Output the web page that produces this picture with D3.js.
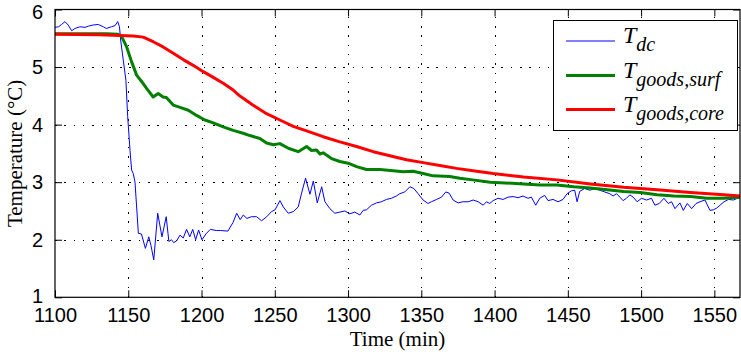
<!DOCTYPE html>
<html><head><meta charset="utf-8">
<script src="https://cdn.jsdelivr.net/npm/d3@7"></script>
<style>body{margin:0;background:#fff}svg{display:block}</style>
</head><body><svg id="c" width="741" height="354"></svg>
<script>
const xTicks = [1100,1150,1200,1250,1300,1350,1400,1450,1500,1550];
const yTicks = [1,2,3,4,5,6];

const dcTime = [1100,1102.4,1104.5,1106.8,1109,1111.4,1113.6,1117,1120.5,1122.7,1126,1129.5,1133,1135,1138.5,1141,1142.8,1144,1144.8,1146.6,1148.4,1149.6,1151.2,1152.3,1153.4,1154.6,1156.9,1159,1161.7,1164,1165.5,1167.4,1170.1,1173,1175.9,1177.7,1179.5,1181,1183,1185.3,1187.5,1189.8,1192,1194,1196,1198,1200.3,1203,1206,1210,1213,1218,1221.5,1224,1226.4,1228.5,1231,1234,1237.5,1241,1244.5,1247.8,1250.2,1253.5,1255.8,1259.2,1262.7,1266,1268.3,1271,1274,1276.3,1279,1282,1284.2,1287.6,1291,
  1294.4,1297.8,1301.2,1304.6,1308.1,1310.3,1312.6,1316,1319.4,1322.8,1326.2,1329.6,1333,1335.3,1338.7,1342.2,1344.9,1347.8,1351.2,1354.6,1356.9,1360.4,1363.8,1366.7,1369,1371.7,1375.1,1378.5,1382,1385.4,1388.8,1392.2,1394.5,1396.7,1399,1402.4,1405.8,1409.2,1412.6,1416,1419.4,1422.8,1425.1,1428.1,1430.8,1434.2,1436.5,1439.9,1443.3,1446.7,1449.5,1452.4,1454.7,1456.3,1458.1,1461.5,1465,1468.4,1471.8,1475.2,1478.6,1480.9,1483.2,1485.5,1487.7,1490,1492.3,1494.6,1497.3,1500.3,1503.7,1507.1,1509.4,1512.4,1515.6,1518.5,1520.8,1523.1,1526.5,1528.8,1531.5,1534.5,1537.5,1540.2,1543.6,1547,1549.3,1551.6,1553.9,1556.6,1559.6,1563,1567.5];
const dcTemp = [5.69,5.70,5.74,5.79,5.73,5.63,5.67,5.70,5.69,5.71,5.73,5.74,5.70,5.67,5.70,5.72,5.79,5.70,5.47,5.12,4.77,4.14,3.55,3.21,3.15,3.00,2.11,2.10,1.85,2.05,1.90,1.65,2.46,2.05,2.40,1.97,2.00,1.95,1.98,2.08,2.03,2.18,2.05,2.18,2.00,2.17,2.00,2.10,2.18,2.16,2.16,2.15,2.30,2.46,2.35,2.43,2.37,2.40,2.40,2.33,2.40,2.49,2.52,2.68,2.57,2.46,2.49,2.57,2.81,3.07,2.79,3.02,2.64,2.92,2.66,2.54,2.46,
  2.48,2.50,2.45,2.48,2.43,2.51,2.52,2.60,2.64,2.66,2.70,2.72,2.76,2.80,2.83,2.92,2.89,2.80,2.69,2.63,2.66,2.70,2.74,2.83,2.81,2.69,2.64,2.66,2.66,2.69,2.66,2.60,2.66,2.63,2.68,2.72,2.70,2.74,2.75,2.73,2.76,2.72,2.74,2.60,2.72,2.77,2.68,2.70,2.66,2.70,2.80,2.85,2.86,2.66,2.84,2.89,2.86,2.89,2.86,2.83,2.80,2.76,2.80,2.74,2.68,2.72,2.78,2.74,2.66,2.72,2.69,2.72,2.60,2.63,2.72,2.63,2.66,2.54,2.64,2.51,2.63,2.54,2.63,2.66,2.69,2.51,2.52,2.55,2.60,2.66,2.70,2.69,2.74];

const surfTime = [1100,1120,1135,1143,1145.5,1148.9,1152.3,1155.7,1159.1,1162.5,1167,1170.4,1173.8,1176,1180.7,1185.3,1191,1196.6,1202.3,1208,1214.8,1221.6,1228.4,1233,1239.8,1244.4,1249,1253.5,1259.2,1266,1271.7,1275.1,1278.5,1280.8,1283,1288.7,1294.4,1300,1305.8,1312.6,1321.7,1330.8,1337.6,1344.4,1351.2,1358,1369.4,1376.3,1385,1397,1419.8,1431.2,1442.6,1454,1465.4,1476.8,1488.1,1499.5,1510.9,1522.3,1533.7,1545,1556.3,1567.5];
const surfTemp = [5.58,5.58,5.58,5.57,5.53,5.35,5.09,4.86,4.75,4.63,4.48,4.54,4.48,4.47,4.34,4.30,4.25,4.16,4.08,4.03,3.96,3.90,3.85,3.81,3.76,3.68,3.65,3.67,3.59,3.53,3.62,3.55,3.56,3.49,3.51,3.41,3.36,3.33,3.27,3.22,3.22,3.20,3.18,3.19,3.15,3.11,3.10,3.07,3.04,3.00,2.97,2.95,2.95,2.92,2.90,2.87,2.84,2.82,2.78,2.76,2.75,2.72,2.72,2.74];

const coreTime = [1100,1130,1153.4,1160.2,1167,1173.8,1180.7,1187.5,1194.3,1201.2,1208,1214.8,1221.6,1226,1235,1244.4,1253.5,1262.6,1271.7,1283,1294.4,1305.8,1317.2,1328.5,1339.9,1351.2,1362.6,1374,1385.3,1399,1419.8,1442.6,1465.4,1488.1,1510.9,1533.7,1556.3,1567.5];
const coreTemp = [5.57,5.56,5.54,5.52,5.44,5.35,5.24,5.13,5.03,4.92,4.82,4.72,4.60,4.50,4.34,4.19,4.08,3.97,3.89,3.79,3.70,3.62,3.53,3.46,3.39,3.34,3.29,3.24,3.20,3.15,3.09,3.04,2.97,2.91,2.87,2.82,2.78,2.76];

const seriesNames = ["dc","goods,surf","goods,core"];
const seriesColors = ["#0000ff","#008000","#ff0000"];

const L=55, R=740, T=9.5, B=297.3;
const svg = d3.select("#c");
const x = d3.scaleLinear().domain([1100,1567.5]).range([L,R]);
const y = d3.scaleLinear().domain([1,6]).range([B,T]);

// grid (dotted)
const grid = svg.append("g").attr("shape-rendering","crispEdges");
xTicks.filter(d=>d>1100).forEach(d=>{
  const px = Math.round(x(d))+0.5;
  grid.append("line").attr("x1",px).attr("x2",px).attr("y1",B).attr("y2",T)
    .attr("stroke","#000").attr("stroke-width",1).attr("stroke-dasharray","1.5,7.8");
});
yTicks.filter(d=>d>1&&d<6).forEach(d=>{
  const py = Math.round(y(d))+0.5;
  grid.append("line").attr("x1",L).attr("x2",R).attr("y1",py).attr("y2",py)
    .attr("stroke","#000").attr("stroke-width",1).attr("stroke-dasharray","1.5,7.8");
});

svg.append("clipPath").attr("id","clip").append("rect").attr("x",L).attr("y",T).attr("width",R-L).attr("height",B-T);
const line = d3.line().x(d=>x(d[0])).y(d=>y(d[1]));
const plot = svg.append("g").attr("clip-path","url(#clip)");
const sets = [[dcTime,dcTemp,1],[surfTime,surfTemp,3],[coreTime,coreTemp,3]];
sets.forEach((s,i)=>{
  plot.append("path").datum(d3.zip(s[0],s[1])).attr("d",line).attr("fill","none")
    .attr("stroke",seriesColors[i]).attr("stroke-width",s[2]).attr("stroke-linejoin","round");
});

// axes
const tl=7;
const fmt = d3.format("d");
const xb = svg.append("g").attr("transform",`translate(0,${B})`).call(d3.axisBottom(x).tickValues(xTicks).tickSize(-tl).tickPadding(tl+5).tickFormat(fmt));
const xt = svg.append("g").attr("transform",`translate(0,${T})`).call(d3.axisTop(x).tickValues(xTicks).tickSize(-tl).tickFormat(""));
const yl = svg.append("g").attr("transform",`translate(${L},0)`).call(d3.axisLeft(y).tickValues(yTicks).tickSize(-tl).tickPadding(tl+5).tickFormat(fmt));
const yr = svg.append("g").attr("transform",`translate(${R},0)`).call(d3.axisRight(y).tickValues(yTicks).tickSize(-tl).tickFormat(""));
[xb,xt,yl,yr].forEach(g=>{
  g.select(".domain").remove();
  g.selectAll("line").attr("stroke","#000");
  g.selectAll("text").attr("font-family","'Liberation Sans',Arial,sans-serif").attr("font-size",20).attr("fill","#000");
});
xb.selectAll("text").attr("dy",null).each(function(){ d3.select(this).attr("y",322-B); });
yl.selectAll(".tick text").filter(d=>d===6).attr("y",3);
yl.selectAll(".tick text").filter(d=>d===1).attr("y",-1);
svg.append("rect").attr("x",L).attr("y",T).attr("width",R-L).attr("height",B-T).attr("fill","none").attr("stroke","#000").attr("stroke-width",1.2);

svg.append("text").attr("x",(L+R)/2).attr("y",346).attr("text-anchor","middle")
  .attr("font-family","'Liberation Serif','Times New Roman',serif").attr("font-size",21).text("Time (min)");
svg.append("text").attr("transform",`translate(22,${(T+B)/2}) rotate(-90)`).attr("text-anchor","middle")
  .attr("font-family","'Liberation Serif','Times New Roman',serif").attr("font-size",21).text("Temperature (°C)");

// legend
const lg = svg.append("g");
lg.append("rect").attr("x",553.5).attr("y",20.5).attr("width",184).attr("height",110).attr("fill","#fff").attr("stroke","#000").attr("stroke-width",1);
const rowsY = [41,75.5,109.5];
const widths = [1,3,3];
seriesNames.forEach((n,i)=>{
  lg.append("line").attr("x1",566).attr("x2",615).attr("y1",rowsY[i]).attr("y2",rowsY[i]).attr("stroke",seriesColors[i]).attr("stroke-width",widths[i]);
  const t = lg.append("text").attr("x",623).attr("y",rowsY[i]+2).attr("font-family","'Liberation Serif','Times New Roman',serif").attr("font-style","italic").attr("font-size",24);
  t.append("tspan").text("T");
  t.append("tspan").attr("font-size",20).attr("dy",8).text(n);
});
</script></body></html>
